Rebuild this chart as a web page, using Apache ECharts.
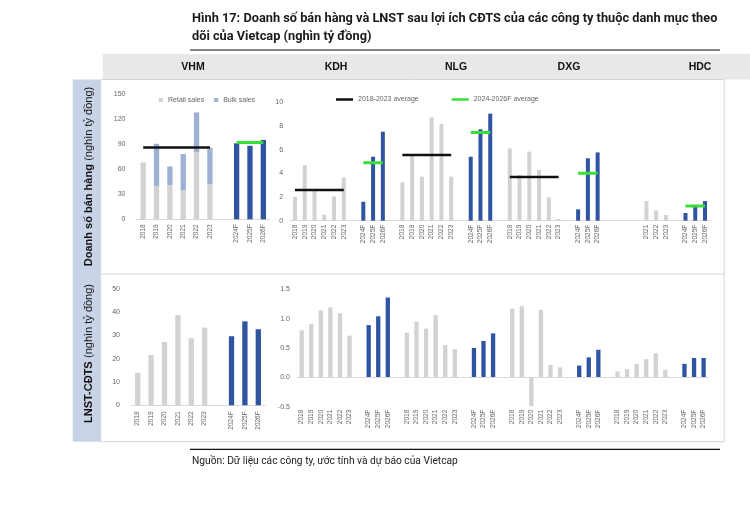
<!DOCTYPE html>
<html><head><meta charset="utf-8">
<script src="https://cdn.jsdelivr.net/npm/echarts@6/dist/echarts.min.js"></script>
<style>html,body{margin:0;padding:0;background:#fff}#c{width:750px;height:516px}</style>
</head><body><div id="c"></div>
<script>
// ---------- DATA ----------
const years = ['2018', '2019', '2020', '2021', '2022', '2023'];
const fcstYears = ['2024F', '2025F', '2026F'];
const headers = ['VHM', 'KDH', 'NLG', 'DXG', 'HDC'];

// Sales (thousand bn VND)
const vhmRetail = [68, 40, 41, 35, 80, 42];
const vhmBulk = [null, 50.4, 22.3, 43.2, 48, 43.6];
const vhmSalesF = [91, 88, 95];
const vhmSalesAvgHist = 86;
const vhmSalesAvgF = 92;

const kdhSales = [2.0, 4.7, 2.6, 0.5, 2.06, 3.66];
const kdhSalesF = [1.6, 5.4, 7.52];
const nlgSales = [3.24, 5.5, 3.72, 8.73, 8.17, 3.72];
const nlgSalesF = [5.4, 7.72, 9.04];
const dxgSales = [6.11, 3.86, 5.83, 4.28, 1.97, 0.14];
const dxgSalesF = [0.96, 5.27, 5.77];
const hdcSales = [null, null, null, 1.66, 0.87, 0.48];
const hdcSalesF = [0.65, 1.3, 1.66];
const salesAvgHist = [2.6, 5.55, 3.7, null];   // KDH, NLG, DXG, HDC
const salesAvgF = [4.9, 7.44, 4.0, 1.24];

// Net profit after minority interest (thousand bn VND)
const vhmProfit = [14.0, 21.6, 27.2, 38.8, 28.8, 33.4];
const vhmProfitF = [29.7, 36.1, 32.7];
const kdhProfit = [0.80, 0.91, 1.14, 1.19, 1.09, 0.71];
const kdhProfitF = [0.89, 1.04, 1.36];
const nlgProfit = [0.76, 0.95, 0.83, 1.06, 0.55, 0.48];
const nlgProfitF = [0.50, 0.62, 0.75];
const dxgProfit = [1.17, 1.21, -0.49, 1.15, 0.21, 0.17];
const dxgProfitF = [0.20, 0.34, 0.47];
const hdcProfit = [0.10, 0.14, 0.23, 0.31, 0.41, 0.13];
const hdcProfitF = [0.23, 0.33, 0.33];

const vhmTicksSales = [0, 150, 30];
const otherTicksSales = [0, 10, 2];
const vhmTicksProfit = [0, 50, 10];
const otherTicksProfit = [-0.5, 1.5, 0.5];

// ---------- BUILD ----------
const GRAY = '#d2d2d2', BULK = '#9eb1d3', BLUE = '#2f55a2', GREEN = '#3ade3a', BLACK = '#111';

function buildRow(histArr, fcstArr, avgH, avgF) {
  const labels = [], hist = [], fcst = [], lineH = [], lineF = [];
  histArr.forEach((h, c) => {
    if (c > 0) { labels.push(''); hist.push(null); fcst.push(null); lineH.push(null); lineF.push(null); }
    for (let i = 0; i < years.length; i++) {
      labels.push(h[i] == null ? '' : years[i]); hist.push(h[i]); fcst.push(null);
      lineH.push(avgH && avgH[c] != null ? avgH[c] : null); lineF.push(null);
    }
    labels.push(''); hist.push(null); fcst.push(null); lineH.push(null); lineF.push(null);
    for (let j = 0; j < fcstYears.length; j++) {
      labels.push(fcstYears[j]); hist.push(null); fcst.push(fcstArr[c][j]);
      lineH.push(null); lineF.push(avgF && avgF[c] != null ? avgF[c] : null);
    }
  });
  return { labels, hist, fcst, lineH, lineF };
}

const vhmTop = buildRow([vhmRetail], [vhmSalesF], [vhmSalesAvgHist], [vhmSalesAvgF]);
const vhmBulkRow = buildRow([vhmBulk], [[null, null, null]]).hist;
const otherTop = buildRow([kdhSales, nlgSales, dxgSales, hdcSales], [kdhSalesF, nlgSalesF, dxgSalesF, hdcSalesF], salesAvgHist, salesAvgF);
const vhmBot = buildRow([vhmProfit], [vhmProfitF]);
const otherBot = buildRow([kdhProfit, nlgProfit, dxgProfit, hdcProfit], [kdhProfitF, nlgProfitF, dxgProfitF, hdcProfitF]);

// ---------- text fitting ----------
const cv = document.createElement('canvas').getContext('2d');
function fit(text, weight, family, target) {
  cv.font = weight + ' 100px ' + family;
  return 100 * target / cv.measureText(text).width;
}
const FAM = 'Roboto';
const title1 = 'Hình 17: Doanh số bán hàng và LNST sau lợi ích CĐTS của các công ty thuộc danh mục theo';
const title2 = 'dõi của Vietcap (nghìn tỷ đồng)';
const titleSize = fit(title1, 'bold', FAM, 526);
const source = 'Nguồn: Dữ liệu các công ty, ước tính và dự báo của Vietcap';
const sourceSize = fit(source, 'normal', FAM, 266);

const LBL = { color: '#666', fontSize: 6.5, fontFamily: 'Liberation Sans' };

function xAx(grid, labels, margin, showLine) {
  return {
    type: 'category', gridIndex: grid, data: labels,
    axisTick: { show: false },
    axisLine: { show: showLine, onZero: false, lineStyle: { color: '#d9d9d9', width: 1 } },
    axisLabel: Object.assign({ rotate: 90, interval: 0, margin: margin }, LBL)
  };
}
function yAx(grid, t, margin, fmt) {
  return {
    type: 'value', gridIndex: grid, min: t[0], max: t[1], interval: t[2],
    splitLine: { show: false }, axisLine: { show: false }, axisTick: { show: false },
    axisLabel: Object.assign({ margin: margin, formatter: fmt }, LBL, { fontSize: 7 })
  };
}
function bar(name, grid, data, color, width, stack) {
  return { name, type: 'bar', xAxisIndex: grid, yAxisIndex: grid, data, stack,
    barWidth: width, itemStyle: { color }, emphasis: { disabled: true }, silent: true };
}
function line(name, grid, data, color, width) {
  return { name, type: 'line', xAxisIndex: grid, yAxisIndex: grid, data, symbol: 'none',
    showSymbol: false, connectNulls: false, z: 5,
    itemStyle: { color }, lineStyle: { color, width }, emphasis: { disabled: true }, silent: true };
}

const series = [
  bar('Retail sales', 0, vhmTop.hist, GRAY, 5.3, 'v'),
  bar('Bulk sales', 0, vhmBulkRow, BULK, 5.3, 'v'),
  bar('VHM forecast', 0, vhmTop.fcst, BLUE, 5.3, 'v'),
  line('VHM hist avg', 0, vhmTop.lineH, BLACK, 2.5),
  line('VHM fcst avg', 0, vhmTop.lineF, GREEN, 3),
  bar('Sales hist', 1, otherTop.hist, GRAY, 4, 's'),
  bar('Sales fcst', 1, otherTop.fcst, BLUE, 4, 's'),
  line('2018-2023 average', 1, otherTop.lineH, BLACK, 2.5),
  line('2024-2026F average', 1, otherTop.lineF, GREEN, 3),
  bar('VHM profit', 2, vhmBot.hist, GRAY, 5.3, 'p'),
  bar('VHM profit F', 2, vhmBot.fcst, BLUE, 5.3, 'p'),
  Object.assign(bar('Profit hist', 3, otherBot.hist, GRAY, 4.3, 'q'), {
    markLine: { silent: true, symbol: 'none', label: { show: false },
      lineStyle: { color: '#d9d9d9', width: 1, type: 'solid' }, data: [{ yAxis: 0 }] }
  }),
  bar('Profit fcst', 3, otherBot.fcst, BLUE, 4.3, 'q')
];

const headerX = [193, 336, 456, 569, 700];
const graphic = [
  { type: 'text', x: 192, y: 10, style: { text: title1 + '\n' + title2, fill: '#1a1a1a',
      font: 'bold ' + titleSize.toFixed(2) + 'px ' + FAM, lineHeight: 18 } },
  { type: 'line', shape: { x1: 190, y1: 50, x2: 720, y2: 50 }, style: { stroke: '#111', lineWidth: 1.2 } },
  { type: 'rect', shape: { x: 103, y: 54, width: 647, height: 25.5 }, style: { fill: '#e8e8e8' }, z: -2 },
  { type: 'rect', shape: { x: 72.7, y: 79.5, width: 28, height: 362.2 }, style: { fill: '#c9d3e8' }, z: -2 },
  { type: 'rect', shape: { x: 100.7, y: 79.5, width: 623.5, height: 362.2 }, style: { fill: '#fff', stroke: '#d4d4d4', lineWidth: 1 }, z: -2 },
  { type: 'line', shape: { x1: 100.7, y1: 274, x2: 724.2, y2: 274 }, style: { stroke: '#d4d4d4', lineWidth: 1 }, z: -1 },
  { type: 'line', shape: { x1: 190, y1: 449.3, x2: 720, y2: 449.3 }, style: { stroke: '#111', lineWidth: 1.2 } },
  { type: 'text', x: 192, y: 461, style: { text: source, fill: '#222', font: 'normal ' + sourceSize.toFixed(2) + 'px ' + FAM, verticalAlign: 'middle' } },
  { type: 'text', x: 89, y: 176.5, rotation: Math.PI / 2, style: {
      text: '{b|Doanh số bán hàng} {r|(nghìn tỷ đồng)}', align: 'center', verticalAlign: 'middle',
      rich: { b: { fontWeight: 'bold', fontSize: 11, fontFamily: 'Liberation Sans', fill: '#111' },
              r: { fontSize: 11, fontFamily: 'Liberation Sans', fill: '#111' } } } },
  { type: 'text', x: 89, y: 353.5, rotation: Math.PI / 2, style: {
      text: '{b|LNST-CĐTS} {r|(nghìn tỷ đồng)}', align: 'center', verticalAlign: 'middle',
      rich: { b: { fontWeight: 'bold', fontSize: 11, fontFamily: 'Liberation Sans', fill: '#111' },
              r: { fontSize: 11, fontFamily: 'Liberation Sans', fill: '#111' } } } }
];
headers.forEach((h, i) => graphic.push({ type: 'text', x: headerX[i], y: 67, style: {
  text: h, align: 'center', verticalAlign: 'middle', fill: '#111', font: 'bold 10.5px Liberation Sans' } }));

const option = {
  animation: false,
  grid: [
    { left: 136.5, top: 94, width: 133.5, height: 125.3 },
    { left: 290.1, top: 102.3, width: 419.8, height: 118.4 },
    { left: 131, top: 289, width: 134, height: 116.3 },
    { left: 296.9, top: 289.3, width: 411.5, height: 117.4 }
  ],
  xAxis: [
    xAx(0, vhmTop.labels, 5, true),
    xAx(1, otherTop.labels, 4, true),
    xAx(2, vhmBot.labels, 6, true),
    xAx(3, otherBot.labels, 3, false)
  ],
  yAxis: [
    yAx(0, vhmTicksSales, 11),
    yAx(1, otherTicksSales, 7),
    yAx(2, vhmTicksProfit, 11),
    yAx(3, otherTicksProfit, 7, v => v.toFixed(1))
  ],
  legend: [
    { data: ['Retail sales', 'Bulk sales'], left: 159, top: 96.5, icon: 'rect', itemWidth: 4, itemHeight: 4,
      itemGap: 10, selectedMode: false, padding: 0, textStyle: { color: '#666', fontSize: 7, fontFamily: 'Liberation Sans' } },
    { data: ['2018-2023 average', '2024-2026F average'], left: 336, top: 96, icon: 'rect', itemWidth: 17, itemHeight: 2.5,
      itemGap: 33, selectedMode: false, padding: 0, textStyle: { color: '#666', fontSize: 7, fontFamily: 'Liberation Sans' } }
  ],
  graphic: graphic,
  series: series
};
const chart = echarts.init(document.getElementById('c'), null, { renderer: 'canvas' });
chart.setOption(option);
</script></body></html>
